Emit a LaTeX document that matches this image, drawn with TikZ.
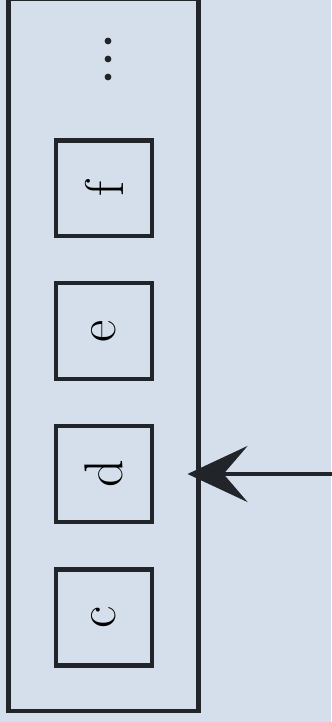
\documentclass[tikz,border=0pt]{standalone}
\usetikzlibrary{arrows.meta}
\definecolor{bgblue}{RGB}{213,223,236}
\definecolor{ink}{RGB}{33,37,41}
\tikzset{
  frame/.style={draw=ink, line width=2.3pt, inner sep=0pt},
  cell/.style={frame, minimum size=1.92cm, rotate=90, font=\fontsize{31}{36}\selectfont},
  pointer/.style={draw=ink, line width=2.2pt, -{Stealth[length=1.2cm, width=1.12cm, inset=0.48cm]}},
}
\begin{document}
\begin{tikzpicture}[x=0.02cm, y=0.02cm]
\fill[bgblue] (0,0) rectangle (331,722);
\useasboundingbox (0,0) rectangle (331,722);
% the list, its top runs off the page
\node[frame, minimum width=3.8cm, minimum height=14.25cm] (list) at (103.5,366.75) {};
% cells, bottom to top
\foreach \y/\lab in {104.5/c, 248/d, 391/e, 533.5/f}{
  \node[cell] (\lab) at (104,\y) {\lab};
}
% more cells above
\foreach \y/\k in {645/1, 663/2, 681/3}{
  \fill[ink] (108,\y) circle (3.4) coordinate (dot\k);
}
% pointer into cell d
\coordinate (src) at (340,248);
\draw[pointer, shorten >=-0.26cm] (src) -- (list.east |- d);
\end{tikzpicture}
\end{document}
